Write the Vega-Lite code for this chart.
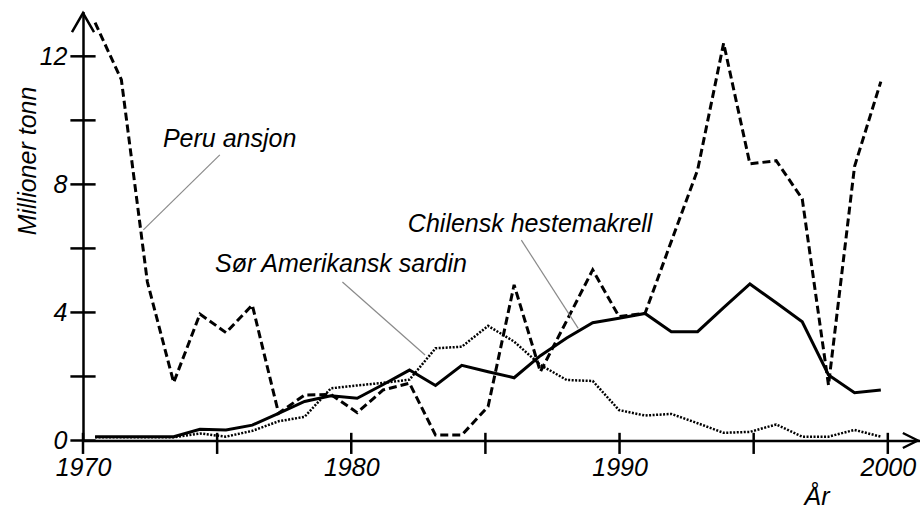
{
  "$schema": "https://vega.github.io/schema/vega-lite/v6.json",
  "width": 837,
  "height": 429,
  "autosize": {"type": "none"},
  "padding": {"left": 83, "top": 11.5, "right": 0, "bottom": 70.5},
  "background": "white",
  "config": {
    "view": {"stroke": null},
    "font": "Liberation Sans",
    "axis": {
      "grid": false, "ticks": false, "tickSize": 0,
      "domainColor": "#000", "domainWidth": 2.5,
      "labelFont": "Liberation Sans", "labelFontSize": 25, "labelFontStyle": "italic",
      "labelColor": "#000", "labelFlush": false, "labelOverlap": false,
      "titleFont": "Liberation Sans", "titleFontSize": 25, "titleFontStyle": "italic",
      "titleFontWeight": "normal", "titleColor": "#000"
    }
  },
  "datasets": {
    "fangst": [
      {"år": 1970.45, "art": "Peru ansjon", "mt": 13.05},
      {"år": 1971.43, "art": "Peru ansjon", "mt": 11.27},
      {"år": 1972.40, "art": "Peru ansjon", "mt": 4.95},
      {"år": 1973.38, "art": "Peru ansjon", "mt": 1.81},
      {"år": 1974.36, "art": "Peru ansjon", "mt": 3.95},
      {"år": 1975.33, "art": "Peru ansjon", "mt": 3.37},
      {"år": 1976.31, "art": "Peru ansjon", "mt": 4.23},
      {"år": 1977.29, "art": "Peru ansjon", "mt": 0.85},
      {"år": 1978.26, "art": "Peru ansjon", "mt": 1.42},
      {"år": 1979.24, "art": "Peru ansjon", "mt": 1.44},
      {"år": 1980.22, "art": "Peru ansjon", "mt": 0.87},
      {"år": 1981.19, "art": "Peru ansjon", "mt": 1.58},
      {"år": 1982.17, "art": "Peru ansjon", "mt": 1.79},
      {"år": 1983.14, "art": "Peru ansjon", "mt": 0.17},
      {"år": 1984.12, "art": "Peru ansjon", "mt": 0.17},
      {"år": 1985.10, "art": "Peru ansjon", "mt": 1.06},
      {"år": 1986.07, "art": "Peru ansjon", "mt": 4.86},
      {"år": 1987.05, "art": "Peru ansjon", "mt": 2.15},
      {"år": 1988.03, "art": "Peru ansjon", "mt": 3.74},
      {"år": 1989.00, "art": "Peru ansjon", "mt": 5.33},
      {"år": 1989.98, "art": "Peru ansjon", "mt": 3.87},
      {"år": 1990.95, "art": "Peru ansjon", "mt": 3.97},
      {"år": 1991.93, "art": "Peru ansjon", "mt": 6.22},
      {"år": 1992.91, "art": "Peru ansjon", "mt": 8.45},
      {"år": 1993.88, "art": "Peru ansjon", "mt": 12.41},
      {"år": 1994.86, "art": "Peru ansjon", "mt": 8.64},
      {"år": 1995.84, "art": "Peru ansjon", "mt": 8.74},
      {"år": 1996.81, "art": "Peru ansjon", "mt": 7.55},
      {"år": 1997.79, "art": "Peru ansjon", "mt": 1.73},
      {"år": 1998.76, "art": "Peru ansjon", "mt": 8.56},
      {"år": 1999.74, "art": "Peru ansjon", "mt": 11.21},
      {"år": 1970.45, "art": "Chilensk hestemakrell", "mt": 0.12},
      {"år": 1971.43, "art": "Chilensk hestemakrell", "mt": 0.12},
      {"år": 1972.40, "art": "Chilensk hestemakrell", "mt": 0.12},
      {"år": 1973.38, "art": "Chilensk hestemakrell", "mt": 0.12},
      {"år": 1974.36, "art": "Chilensk hestemakrell", "mt": 0.35},
      {"år": 1975.33, "art": "Chilensk hestemakrell", "mt": 0.33},
      {"år": 1976.31, "art": "Chilensk hestemakrell", "mt": 0.48},
      {"år": 1977.29, "art": "Chilensk hestemakrell", "mt": 0.85},
      {"år": 1978.26, "art": "Chilensk hestemakrell", "mt": 1.22},
      {"år": 1979.24, "art": "Chilensk hestemakrell", "mt": 1.4},
      {"år": 1980.22, "art": "Chilensk hestemakrell", "mt": 1.32},
      {"år": 1981.19, "art": "Chilensk hestemakrell", "mt": 1.75},
      {"år": 1982.17, "art": "Chilensk hestemakrell", "mt": 2.2},
      {"år": 1983.14, "art": "Chilensk hestemakrell", "mt": 1.72},
      {"år": 1984.12, "art": "Chilensk hestemakrell", "mt": 2.35},
      {"år": 1985.10, "art": "Chilensk hestemakrell", "mt": 2.15},
      {"år": 1986.07, "art": "Chilensk hestemakrell", "mt": 1.96},
      {"år": 1987.05, "art": "Chilensk hestemakrell", "mt": 2.65},
      {"år": 1988.03, "art": "Chilensk hestemakrell", "mt": 3.2},
      {"år": 1989.00, "art": "Chilensk hestemakrell", "mt": 3.68},
      {"år": 1989.98, "art": "Chilensk hestemakrell", "mt": 3.82},
      {"år": 1990.95, "art": "Chilensk hestemakrell", "mt": 3.97},
      {"år": 1991.93, "art": "Chilensk hestemakrell", "mt": 3.4},
      {"år": 1992.91, "art": "Chilensk hestemakrell", "mt": 3.4},
      {"år": 1993.88, "art": "Chilensk hestemakrell", "mt": 4.15},
      {"år": 1994.86, "art": "Chilensk hestemakrell", "mt": 4.89},
      {"år": 1995.84, "art": "Chilensk hestemakrell", "mt": 4.3},
      {"år": 1996.81, "art": "Chilensk hestemakrell", "mt": 3.71},
      {"år": 1997.79, "art": "Chilensk hestemakrell", "mt": 2.05},
      {"år": 1998.76, "art": "Chilensk hestemakrell", "mt": 1.49},
      {"år": 1999.74, "art": "Chilensk hestemakrell", "mt": 1.58},
      {"år": 1970.45, "art": "Sør Amerikansk sardin", "mt": 0.1},
      {"år": 1971.43, "art": "Sør Amerikansk sardin", "mt": 0.1},
      {"år": 1972.40, "art": "Sør Amerikansk sardin", "mt": 0.1},
      {"år": 1973.38, "art": "Sør Amerikansk sardin", "mt": 0.1},
      {"år": 1974.36, "art": "Sør Amerikansk sardin", "mt": 0.22},
      {"år": 1975.33, "art": "Sør Amerikansk sardin", "mt": 0.12},
      {"år": 1976.31, "art": "Sør Amerikansk sardin", "mt": 0.3},
      {"år": 1977.29, "art": "Sør Amerikansk sardin", "mt": 0.6},
      {"år": 1978.26, "art": "Sør Amerikansk sardin", "mt": 0.74},
      {"år": 1979.24, "art": "Sør Amerikansk sardin", "mt": 1.63},
      {"år": 1980.22, "art": "Sør Amerikansk sardin", "mt": 1.72},
      {"år": 1981.19, "art": "Sør Amerikansk sardin", "mt": 1.8},
      {"år": 1982.17, "art": "Sør Amerikansk sardin", "mt": 1.9},
      {"år": 1983.14, "art": "Sør Amerikansk sardin", "mt": 2.88},
      {"år": 1984.12, "art": "Sør Amerikansk sardin", "mt": 2.93},
      {"år": 1985.10, "art": "Sør Amerikansk sardin", "mt": 3.58},
      {"år": 1986.07, "art": "Sør Amerikansk sardin", "mt": 3.09},
      {"år": 1987.05, "art": "Sør Amerikansk sardin", "mt": 2.36},
      {"år": 1988.03, "art": "Sør Amerikansk sardin", "mt": 1.89},
      {"år": 1989.00, "art": "Sør Amerikansk sardin", "mt": 1.86},
      {"år": 1989.98, "art": "Sør Amerikansk sardin", "mt": 0.95},
      {"år": 1990.95, "art": "Sør Amerikansk sardin", "mt": 0.78},
      {"år": 1991.93, "art": "Sør Amerikansk sardin", "mt": 0.83},
      {"år": 1992.91, "art": "Sør Amerikansk sardin", "mt": 0.54},
      {"år": 1993.88, "art": "Sør Amerikansk sardin", "mt": 0.24},
      {"år": 1994.86, "art": "Sør Amerikansk sardin", "mt": 0.27},
      {"år": 1995.84, "art": "Sør Amerikansk sardin", "mt": 0.5},
      {"år": 1996.81, "art": "Sør Amerikansk sardin", "mt": 0.12},
      {"år": 1997.79, "art": "Sør Amerikansk sardin", "mt": 0.12},
      {"år": 1998.76, "art": "Sør Amerikansk sardin", "mt": 0.33},
      {"år": 1999.74, "art": "Sør Amerikansk sardin", "mt": 0.12}
    ]
  },
  "layer": [
    {
      "data": {"name": "fangst"},
      "transform": [{"filter": "datum.art === 'Sør Amerikansk sardin'"}],
      "mark": {"type": "line", "stroke": "#000", "strokeWidth": 2.5, "strokeDash": [2, 1.5]},
      "encoding": {
        "x": {
          "field": "år", "type": "quantitative",
          "scale": {"domain": [1970, 2001.2], "nice": false, "zero": false},
          "axis": {
            "title": "År", "values": [1970, 1980, 1990, 2000], "format": "d",
            "labelPadding": 34.5, "labelBaseline": "alphabetic",
            "titleX": 733.5, "titleY": 64, "titleAlign": "center", "titleBaseline": "alphabetic"
          }
        },
        "y": {
          "field": "mt", "type": "quantitative",
          "scale": {"domain": [0, 13.4], "nice": false, "zero": false},
          "axis": {
            "title": "Millioner tonn", "values": [0, 4, 8, 12], "format": "d",
            "labelPadding": 16, "titleAngle": 270,
            "titleX": -48, "titleY": 149, "titleAlign": "center", "titleBaseline": "alphabetic"
          }
        }
      }
    },
    {
      "data": {"name": "fangst"},
      "transform": [{"filter": "datum.art === 'Chilensk hestemakrell'"}],
      "mark": {"type": "line", "stroke": "#000", "strokeWidth": 3},
      "encoding": {
        "x": {"field": "år", "type": "quantitative"},
        "y": {"field": "mt", "type": "quantitative"}
      }
    },
    {
      "data": {"name": "fangst"},
      "transform": [{"filter": "datum.art === 'Peru ansjon'"}],
      "mark": {"type": "line", "stroke": "#000", "strokeWidth": 3, "strokeDash": [8, 4]},
      "encoding": {
        "x": {"field": "år", "type": "quantitative"},
        "y": {"field": "mt", "type": "quantitative"}
      }
    },
    {
      "data": {"values": [{"v": 1970}, {"v": 1975}, {"v": 1980}, {"v": 1985}, {"v": 1990}, {"v": 1995}, {"v": 2000}]},
      "mark": {"type": "rule", "stroke": "#000", "strokeWidth": 2.5},
      "encoding": {
        "x": {"field": "v", "type": "quantitative"},
        "y": {"datum": -0.42, "type": "quantitative"},
        "y2": {"datum": 0.24}
      }
    },
    {
      "data": {"values": [{"v": 0}, {"v": 2}, {"v": 4}, {"v": 6}, {"v": 8}, {"v": 10}, {"v": 12}]},
      "mark": {"type": "rule", "stroke": "#000", "strokeWidth": 2.5},
      "encoding": {
        "y": {"field": "v", "type": "quantitative"},
        "x": {"datum": 1969.53, "type": "quantitative"},
        "x2": {"datum": 1970.47}
      }
    },
    {
      "data": {"values": [{}]},
      "mark": {"type": "point", "shape": "M-1,-0.5L0,0L-1,0.5", "size": 900, "filled": false, "stroke": "#000", "strokeWidth": 2.5, "opacity": 1},
      "encoding": {
        "x": {"datum": 2001.12, "type": "quantitative"},
        "y": {"datum": 0, "type": "quantitative"}
      }
    },
    {
      "data": {"values": [{}]},
      "mark": {"type": "point", "shape": "M-0.58,1L0,0L0.58,1", "size": 1444, "filled": false, "stroke": "#000", "strokeWidth": 2.5, "opacity": 1},
      "encoding": {
        "x": {"datum": 1970, "type": "quantitative"},
        "y": {"datum": 13.35, "type": "quantitative"}
      }
    },
    {
      "data": {"values": [{}]},
      "mark": {"type": "rule", "stroke": "#8a8a8a", "strokeWidth": 1.2},
      "encoding": {
        "x": {"datum": 1975.1, "type": "quantitative"},
        "y": {"datum": 8.92, "type": "quantitative"},
        "x2": {"datum": 1972.25},
        "y2": {"datum": 6.58}
      }
    },
    {
      "data": {"values": [{}]},
      "mark": {"type": "rule", "stroke": "#8a8a8a", "strokeWidth": 1.2},
      "encoding": {
        "x": {"datum": 1979.67, "type": "quantitative"},
        "y": {"datum": 4.95, "type": "quantitative"},
        "x2": {"datum": 1982.75},
        "y2": {"datum": 2.67}
      }
    },
    {
      "data": {"values": [{}]},
      "mark": {"type": "rule", "stroke": "#8a8a8a", "strokeWidth": 1.2},
      "encoding": {
        "x": {"datum": 1986.34, "type": "quantitative"},
        "y": {"datum": 6.26, "type": "quantitative"},
        "x2": {"datum": 1988.46},
        "y2": {"datum": 3.5}
      }
    },
    {
      "data": {"values": [{}]},
      "mark": {"type": "text", "text": "Peru ansjon", "align": "left", "baseline": "alphabetic", "font": "Liberation Sans", "fontSize": 25, "fontStyle": "italic", "color": "#000"},
      "encoding": {
        "x": {"datum": 1972.98, "type": "quantitative"},
        "y": {"datum": 9.17, "type": "quantitative"}
      }
    },
    {
      "data": {"values": [{}]},
      "mark": {"type": "text", "text": "Sør Amerikansk sardin", "align": "left", "baseline": "alphabetic", "font": "Liberation Sans", "fontSize": 25, "fontStyle": "italic", "color": "#000"},
      "encoding": {
        "x": {"datum": 1974.92, "type": "quantitative"},
        "y": {"datum": 5.26, "type": "quantitative"}
      }
    },
    {
      "data": {"values": [{}]},
      "mark": {"type": "text", "text": "Chilensk hestemakrell", "align": "left", "baseline": "alphabetic", "font": "Liberation Sans", "fontSize": 25, "fontStyle": "italic", "color": "#000"},
      "encoding": {
        "x": {"datum": 1982.11, "type": "quantitative"},
        "y": {"datum": 6.51, "type": "quantitative"}
      }
    }
  ]
}
